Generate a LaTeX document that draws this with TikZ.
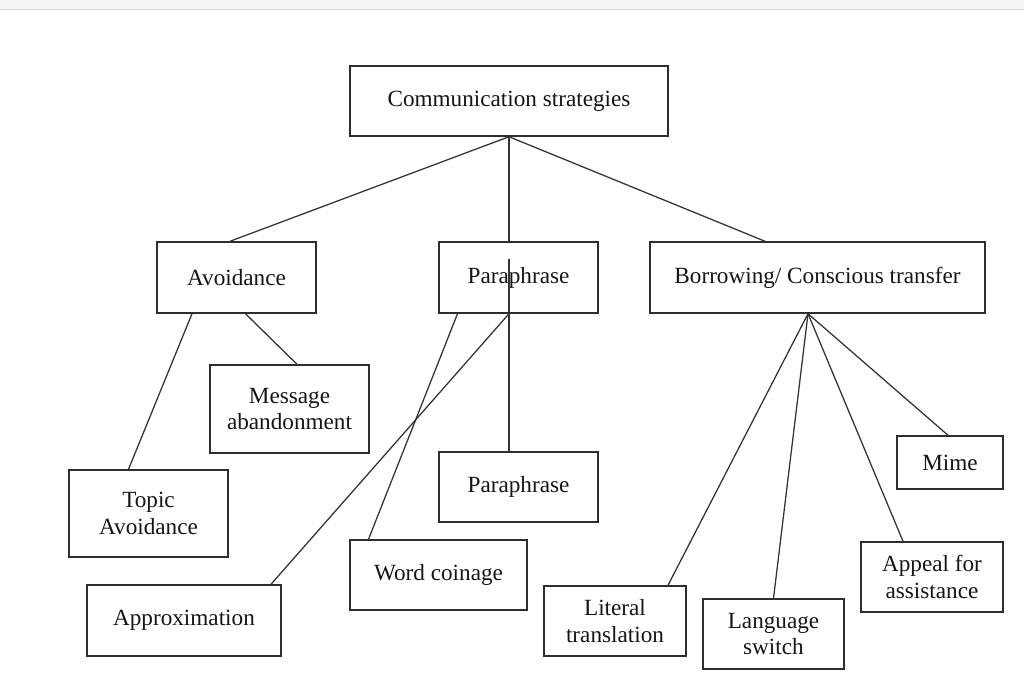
\documentclass[tikz,border=0pt]{standalone}
\usepackage{fontspec}
\setmainfont{Liberation Serif}
\usetikzlibrary{calc}
\definecolor{boxline}{HTML}{2E2E2E}
\definecolor{conline}{HTML}{333333}
\definecolor{txt}{HTML}{161616}
\definecolor{barfill}{HTML}{F4F4F4}
\definecolor{barline}{HTML}{D8D8D8}
\begin{document}
\begin{tikzpicture}[x=0.75pt,y=-0.75pt,
  box/.style={draw=boxline,line width=1.1pt,rectangle,inner sep=0pt,
    align=center,text=txt,font=\fontsize{17.4pt}{20pt}\selectfont},
  con/.style={draw=conline,line width=0.95pt}]
\useasboundingbox (0,0) rectangle (1024,678);
\fill[white] (0,0) rectangle (1024,678);
\fill[barfill] (0,0) rectangle (1024,9);
\draw[barline,line width=0.8pt] (0,9.5) -- (1024,9.5);

\node[box,minimum width=318*0.75pt,minimum height=70*0.75pt] (comm) at (509,101) {Communication strategies};
\node[box,minimum width=159*0.75pt,minimum height=71*0.75pt] (avoid) at (236.5,277.5) {Avoidance};
\node[box,minimum width=159*0.75pt,minimum height=71*0.75pt] (para) at (518.5,277.5) {Paraphrase};
\node[box,minimum width=335*0.75pt,minimum height=71*0.75pt] (borrow) at (817.5,277.5) {Borrowing/ Conscious transfer};
\node[box,minimum width=159*0.75pt,minimum height=88*0.75pt] (msg) at (289.5,409) {Message\\abandonment};
\node[box,minimum width=159*0.75pt,minimum height=87*0.75pt] (topic) at (148.5,513.5) {Topic\\Avoidance};
\node[box,minimum width=159*0.75pt,minimum height=70*0.75pt] (para2) at (518.5,487) {Paraphrase};
\node[box,minimum width=177*0.75pt,minimum height=70*0.75pt] (word) at (438.5,575) {Word coinage};
\node[box,minimum width=194*0.75pt,minimum height=71*0.75pt] (approx) at (184,620.5) {Approximation};
\node[box,minimum width=142*0.75pt,minimum height=70*0.75pt] (literal) at (615,621) {Literal\\translation};
\node[box,minimum width=141*0.75pt,minimum height=70*0.75pt] (lang) at (773.5,634) {Language\\switch};
\node[box,minimum width=142*0.75pt,minimum height=70*0.75pt] (appeal) at (932,577) {Appeal for\\assistance};
\node[box,minimum width=106*0.75pt,minimum height=53*0.75pt] (mime) at (950,462.5) {Mime};

\coordinate (cs) at (comm.south);
\coordinate (ps) at (cs |- para.south);
\coordinate (bs) at ($(borrow.south)+(-9.5,0)$);

\draw[con] (cs) -- ($(avoid.north)+(-6.5,0)$);
\draw[con] (cs) -- (cs |- para.north);
\draw[con] (cs) -- ($(borrow.north)+(-52.5,0)$);

\draw[con] ($(avoid.south)+(-44.5,0)$) -- ($(topic.north)+(-20,0)$);
\draw[con] ($(avoid.south)+(9,0)$) -- ($(msg.north)+(7.5,0)$);

\draw[con] ($(para.south)+(-61,0)$) -- ($(word.north)+(-70,0)$);
\draw[con] (ps) -- ($(approx.north)+(87,0)$);
\draw[con] ($(cs |- para.center)+(0,-18.5)$) -- (cs |- para2.north);

\draw[con] (bs) -- ($(literal.north)+(53,0)$);
\draw[con] (bs) -- (lang.north);
\draw[con] (bs) -- ($(appeal.north)+(-29,0)$);
\draw[con] (bs) -- ($(mime.north)+(-2,0)$);
\end{tikzpicture}
\end{document}
